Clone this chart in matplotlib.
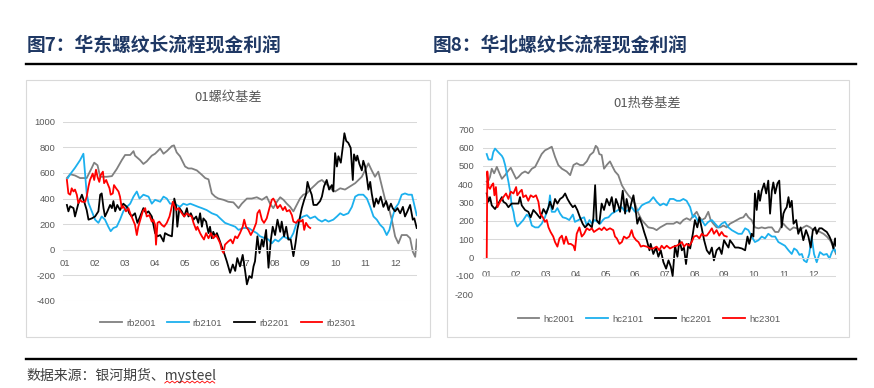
import numpy as np
import matplotlib
matplotlib.use('Agg')
import matplotlib.pyplot as plt
from matplotlib.lines import Line2D
from matplotlib.patches import Rectangle

plt.rcParams['font.family'] = ['Liberation Sans', 'Noto Sans CJK SC', 'DejaVu Sans']
plt.rcParams['axes.unicode_minus'] = False
CJK = ['Noto Sans CJK SC', 'DejaVu Sans']

# ---- data: (month position, basis) pairs ----
months = [1, 2, 3, 4, 5, 6, 7, 8, 9, 10, 11, 12]

rb2001 = [(1.06, 560), (1.17, 590), (1.33, 580), (1.5, 560), (1.72, 560), (1.89, 640), (1.97, 680),
          (2.08, 660), (2.17, 570), (2.39, 570), (2.56, 575), (2.72, 630), (2.89, 700), (3.0, 740),
          (3.17, 740), (3.28, 770), (3.33, 735), (3.5, 700), (3.61, 670), (3.72, 690), (3.89, 735),
          (4.0, 750), (4.17, 790), (4.28, 750), (4.39, 770), (4.56, 810), (4.63, 815), (4.72, 760),
          (4.83, 730), (5.0, 650), (5.11, 635), (5.22, 635), (5.39, 620), (5.56, 585), (5.67, 560),
          (5.78, 550), (5.89, 440), (6.0, 415), (6.11, 400), (6.28, 390), (6.44, 375), (6.61, 370),
          (6.78, 325), (6.89, 360), (7.06, 400), (7.22, 400), (7.39, 410), (7.56, 390), (7.72, 415),
          (7.83, 360), (7.94, 325), (8.06, 375), (8.17, 410), (8.28, 390), (8.39, 360), (8.5, 335),
          (8.61, 300), (8.72, 350), (8.83, 400), (8.94, 430), (9.06, 440), (9.17, 470), (9.33, 505),
          (9.44, 530), (9.56, 545), (9.67, 520), (9.78, 500), (9.89, 470), (10.0, 455), (10.17, 480),
          (10.33, 470), (10.5, 495), (10.67, 520), (10.78, 545), (10.89, 570), (11.06, 650),
          (11.11, 675), (11.22, 620), (11.33, 570), (11.44, 610), (11.56, 495), (11.67, 390),
          (11.78, 335), (11.89, 235), (12.0, 105), (12.11, 50), (12.22, 115), (12.39, 115),
          (12.5, 90), (12.59, -15), (12.67, -55), (12.72, 80)]

rb2101 = [(1.09, 560), (1.17, 590), (1.33, 640), (1.5, 700), (1.61, 750), (1.72, 440), (1.78, 365),
          (1.89, 300), (2.0, 235), (2.11, 210), (2.22, 260), (2.33, 235), (2.44, 180), (2.52, 145),
          (2.61, 170), (2.72, 180), (2.83, 235), (2.94, 300), (3.06, 335), (3.17, 360), (3.28, 415),
          (3.39, 455), (3.48, 400), (3.61, 430), (3.78, 415), (3.89, 360), (4.0, 390), (4.17, 375),
          (4.28, 415), (4.39, 400), (4.5, 360), (4.61, 360), (4.72, 350), (4.83, 335), (4.94, 360),
          (5.06, 350), (5.17, 360), (5.28, 350), (5.44, 335), (5.56, 325), (5.72, 310), (5.89, 285),
          (6.06, 270), (6.17, 245), (6.33, 210), (6.5, 195), (6.67, 180), (6.78, 155), (6.94, 170),
          (7.11, 170), (7.28, 145), (7.39, 130), (7.5, 105), (7.67, 90), (7.78, 80), (7.89, 50),
          (8.0, 80), (8.11, 65), (8.28, 105), (8.39, 90), (8.52, 90), (8.61, 130), (8.72, 210),
          (8.83, 245), (8.94, 260), (9.06, 270), (9.17, 245), (9.33, 260), (9.44, 235), (9.56, 220),
          (9.67, 235), (9.78, 220), (9.94, 235), (10.06, 260), (10.17, 285), (10.28, 270),
          (10.44, 285), (10.56, 335), (10.67, 415), (10.78, 430), (10.94, 430), (11.06, 400),
          (11.17, 335), (11.28, 260), (11.39, 235), (11.5, 195), (11.61, 170), (11.72, 115),
          (11.81, 155), (11.89, 235), (12.0, 325), (12.11, 360), (12.22, 430), (12.33, 440),
          (12.44, 430), (12.56, 430), (12.63, 360), (12.72, 270)]

rb2201 = [(1.06, 350), (1.11, 300), (1.17, 340), (1.28, 325), (1.33, 260), (1.44, 360), (1.56, 430),
          (1.63, 380), (1.72, 310), (1.78, 235), (1.89, 245), (2.0, 260), (2.11, 300), (2.17, 430),
          (2.22, 440), (2.28, 325), (2.33, 260), (2.41, 300), (2.5, 350), (2.56, 325), (2.61, 380),
          (2.67, 300), (2.74, 350), (2.83, 310), (2.94, 360), (3.06, 335), (3.14, 285), (3.22, 260),
          (3.33, 285), (3.41, 210), (3.5, 260), (3.61, 325), (3.7, 285), (3.78, 300), (3.89, 260),
          (4.0, 130), (4.08, 105), (4.17, 115), (4.28, 65), (4.33, 130), (4.44, 115), (4.56, 105),
          (4.61, 260), (4.64, 400), (4.7, 340), (4.74, 180), (4.81, 325), (4.89, 300), (4.97, 260),
          (5.06, 325), (5.11, 260), (5.19, 285), (5.28, 235), (5.37, 260), (5.44, 210), (5.5, 285),
          (5.56, 180), (5.61, 245), (5.7, 220), (5.78, 130), (5.83, 180), (5.89, 90), (5.94, 140),
          (6.0, 105), (6.06, 130), (6.14, 80), (6.22, 25), (6.3, -25), (6.39, -90), (6.5, -180),
          (6.59, -115), (6.67, -165), (6.74, -65), (6.83, -130), (6.92, -40), (7.0, -165),
          (7.06, -270), (7.14, -205), (7.22, -220), (7.28, -130), (7.33, -90), (7.41, 105),
          (7.48, -25), (7.56, 80), (7.61, 25), (7.7, 155), (7.78, -140), (7.86, 80), (7.92, 180),
          (8.0, 115), (8.08, 235), (8.17, 140), (8.22, 220), (8.3, 105), (8.37, 180), (8.44, 80),
          (8.52, 80), (8.61, -50), (8.68, 50), (8.74, 155), (8.81, 235), (8.89, 325), (8.97, 390),
          (9.03, 430), (9.08, 530), (9.14, 480), (9.22, 430), (9.28, 350), (9.39, 350), (9.5, 380),
          (9.56, 415), (9.63, 495), (9.72, 545), (9.8, 470), (9.89, 505), (9.94, 455), (10.0, 755),
          (10.06, 650), (10.11, 730), (10.19, 680), (10.26, 810), (10.31, 910), (10.37, 850),
          (10.44, 835), (10.52, 795), (10.59, 545), (10.63, 745), (10.7, 695), (10.74, 735),
          (10.81, 670), (10.89, 620), (10.94, 695), (11.0, 650), (11.06, 560), (11.11, 470),
          (11.17, 530), (11.22, 440), (11.3, 335), (11.37, 400), (11.44, 360), (11.52, 415),
          (11.61, 335), (11.7, 380), (11.78, 310), (11.86, 360), (11.92, 325), (12.0, 300),
          (12.08, 325), (12.17, 285), (12.26, 335), (12.33, 260), (12.41, 300), (12.5, 350),
          (12.59, 235), (12.64, 245), (12.72, 170)]

rb2301 = [(1.06, 545), (1.11, 440), (1.17, 430), (1.22, 480), (1.28, 455), (1.33, 470), (1.39, 430),
          (1.44, 365), (1.5, 390), (1.56, 375), (1.67, 375), (1.72, 415), (1.78, 495), (1.83, 545),
          (1.92, 595), (1.97, 545), (2.03, 625), (2.08, 570), (2.14, 530), (2.19, 585), (2.26, 610),
          (2.3, 520), (2.37, 545), (2.41, 520), (2.48, 480), (2.52, 430), (2.59, 440), (2.63, 505),
          (2.7, 480), (2.78, 455), (2.83, 415), (2.89, 325), (2.94, 340), (3.03, 300), (3.11, 325),
          (3.17, 285), (3.26, 235), (3.33, 195), (3.39, 115), (3.44, 180), (3.52, 245), (3.59, 300),
          (3.67, 325), (3.72, 260), (3.81, 270), (3.89, 220), (3.94, 235), (4.0, 195), (4.03, 40),
          (4.08, 210), (4.14, 220), (4.22, 195), (4.3, 180), (4.39, 210), (4.48, 260), (4.53, 310),
          (4.59, 375), (4.63, 350), (4.7, 310), (4.78, 325), (4.89, 285), (4.97, 260), (5.06, 285),
          (5.14, 270), (5.22, 260), (5.28, 210), (5.37, 155), (5.41, 180), (5.5, 130), (5.56, 105),
          (5.63, 80), (5.7, 130), (5.78, 90), (5.86, 130), (5.94, 90), (6.03, 115), (6.11, 80),
          (6.17, 50), (6.22, 0), (6.28, -25), (6.33, 40), (6.44, 65), (6.52, 80), (6.59, 50),
          (6.67, 105), (6.74, 90), (6.83, 130), (6.92, 180), (6.97, 235), (7.03, 180), (7.11, 155),
          (7.19, 115), (7.28, 155), (7.37, 210), (7.41, 285), (7.48, 310), (7.56, 235), (7.63, 210),
          (7.72, 245), (7.81, 325), (7.89, 390), (7.94, 400), (8.0, 375), (8.08, 325), (8.17, 350),
          (8.26, 310), (8.33, 335), (8.39, 300), (8.48, 310), (8.56, 270), (8.61, 220), (8.7, 210),
          (8.78, 235), (8.86, 220), (8.92, 235), (8.97, 155), (9.03, 210), (9.11, 180), (9.17, 170)]

hc2001 = [(1.0, 415), (1.06, 420), (1.11, 440), (1.17, 485), (1.25, 460), (1.34, 495), (1.43, 460),
          (1.51, 430), (1.62, 450), (1.73, 475), (1.81, 490), (1.9, 460), (1.99, 430), (2.07, 440),
          (2.18, 460), (2.29, 470), (2.4, 460), (2.52, 485), (2.63, 495), (2.74, 530), (2.85, 565),
          (2.96, 585), (3.08, 595), (3.19, 605), (3.3, 550), (3.41, 505), (3.53, 485), (3.69, 470),
          (3.81, 450), (3.92, 505), (4.03, 515), (4.14, 505), (4.25, 505), (4.37, 525), (4.48, 560),
          (4.59, 575), (4.67, 610), (4.73, 600), (4.79, 565), (4.87, 560), (4.95, 485), (5.04, 505),
          (5.15, 525), (5.24, 495), (5.32, 470), (5.43, 450), (5.55, 395), (5.66, 365), (5.77, 340),
          (5.88, 320), (5.99, 295), (6.11, 240), (6.22, 205), (6.33, 185), (6.44, 165), (6.61, 160),
          (6.72, 150), (6.84, 165), (6.95, 175), (7.06, 185), (7.17, 185), (7.29, 185), (7.4, 195),
          (7.51, 185), (7.62, 205), (7.73, 215), (7.85, 205), (7.96, 230), (8.07, 250), (8.16, 220),
          (8.24, 205), (8.35, 215), (8.46, 250), (8.54, 205), (8.63, 185), (8.74, 165), (8.86, 165),
          (8.97, 175), (9.08, 165), (9.19, 185), (9.31, 195), (9.42, 205), (9.53, 215), (9.64, 220),
          (9.73, 240), (9.81, 220), (9.92, 205), (10.03, 165), (10.15, 160), (10.26, 165),
          (10.37, 160), (10.48, 165), (10.6, 165), (10.71, 140), (10.82, 140), (10.9, 165),
          (10.99, 185), (11.1, 165), (11.21, 150), (11.33, 165), (11.44, 160), (11.55, 150),
          (11.66, 165), (11.77, 175), (11.89, 165), (12.0, 150), (12.11, 150), (12.22, 140),
          (12.34, 130), (12.45, 115), (12.56, 95), (12.67, 60), (12.76, 20)]

hc2101 = [(1.0, 565), (1.06, 535), (1.17, 535), (1.22, 575), (1.28, 595), (1.39, 575), (1.51, 555),
          (1.56, 540), (1.62, 505), (1.73, 415), (1.79, 360), (1.84, 285), (1.9, 250), (1.95, 200),
          (2.03, 170), (2.12, 185), (2.23, 205), (2.35, 235), (2.44, 220), (2.52, 175), (2.63, 165),
          (2.74, 165), (2.85, 185), (2.96, 220), (3.08, 275), (3.13, 340), (3.19, 250), (3.3, 250),
          (3.38, 270), (3.47, 240), (3.56, 220), (3.67, 215), (3.78, 205), (3.9, 235), (3.97, 195),
          (4.09, 205), (4.2, 215), (4.28, 220), (4.37, 175), (4.46, 205), (4.54, 185), (4.63, 205),
          (4.73, 195), (4.82, 185), (4.91, 205), (4.98, 215), (5.1, 220), (5.21, 240), (5.32, 250),
          (5.43, 260), (5.55, 275), (5.66, 250), (5.77, 260), (5.88, 275), (5.99, 250), (6.11, 260),
          (6.22, 285), (6.33, 295), (6.48, 305), (6.61, 330), (6.72, 305), (6.84, 285), (6.95, 295),
          (7.06, 285), (7.17, 320), (7.29, 320), (7.4, 310), (7.51, 310), (7.62, 320), (7.73, 310),
          (7.85, 275), (7.94, 220), (8.01, 230), (8.13, 195), (8.24, 205), (8.35, 175), (8.46, 195),
          (8.58, 205), (8.69, 185), (8.8, 165), (8.91, 185), (9.02, 195), (9.14, 165), (9.25, 150),
          (9.36, 140), (9.47, 130), (9.59, 130), (9.7, 160), (9.81, 150), (9.92, 115), (10.03, 85),
          (10.15, 95), (10.26, 115), (10.37, 105), (10.48, 130), (10.6, 115), (10.71, 115),
          (10.82, 85), (10.93, 75), (11.04, 65), (11.16, 40), (11.27, 20), (11.35, 50), (11.44, 40),
          (11.53, 15), (11.61, 20), (11.68, -15), (11.77, -25), (11.86, 20), (11.94, 115),
          (12.02, 20), (12.11, -25), (12.22, 30), (12.34, 15), (12.45, 20), (12.54, -5),
          (12.62, 30), (12.69, 50), (12.76, 30)]

hc2201 = [(1.0, 350), (1.06, 305), (1.11, 330), (1.17, 285), (1.28, 265), (1.39, 295), (1.51, 330),
          (1.56, 305), (1.65, 295), (1.73, 275), (1.84, 295), (1.95, 295), (2.07, 295), (2.12, 330),
          (2.18, 285), (2.29, 260), (2.4, 250), (2.48, 220), (2.57, 260), (2.68, 240), (2.8, 215),
          (2.91, 265), (3.0, 240), (3.08, 275), (3.13, 305), (3.22, 265), (3.3, 320), (3.38, 295),
          (3.47, 320), (3.56, 330), (3.64, 350), (3.72, 320), (3.81, 295), (3.9, 275), (3.97, 285),
          (4.05, 260), (4.14, 220), (4.23, 185), (4.31, 165), (4.42, 185), (4.54, 165), (4.59, 215),
          (4.65, 395), (4.7, 205), (4.79, 185), (4.87, 295), (4.95, 260), (5.04, 320), (5.13, 285),
          (5.21, 330), (5.29, 250), (5.35, 320), (5.43, 285), (5.49, 250), (5.58, 365), (5.66, 240),
          (5.71, 320), (5.8, 250), (5.88, 305), (5.94, 340), (6.03, 240), (6.07, 185), (6.14, 220),
          (6.22, 185), (6.3, 140), (6.39, 95), (6.48, 40), (6.52, 75), (6.61, 20), (6.7, 55),
          (6.78, 5), (6.86, 40), (6.95, -25), (7.04, -60), (7.12, -15), (7.2, -50), (7.26, -100),
          (7.34, 65), (7.42, 5), (7.49, 95), (7.57, 40), (7.64, 55), (7.71, -35), (7.79, 75),
          (7.85, 50), (7.94, 130), (8.01, 205), (8.09, 165), (8.16, 220), (8.24, 160), (8.32, 95),
          (8.41, 40), (8.5, 20), (8.58, 55), (8.65, -15), (8.74, 40), (8.83, 55), (8.91, 20),
          (8.99, 95), (9.06, 75), (9.14, 55), (9.19, 95), (9.28, 75), (9.36, 55), (9.47, 55),
          (9.59, 50), (9.7, 40), (9.78, 115), (9.84, 75), (9.92, 130), (9.98, 115), (10.03, 350),
          (10.09, 260), (10.15, 365), (10.2, 310), (10.26, 365), (10.34, 405), (10.41, 350),
          (10.48, 420), (10.54, 240), (10.6, 365), (10.65, 410), (10.71, 350), (10.79, 405),
          (10.85, 420), (10.93, 165), (10.99, 240), (11.04, 260), (11.1, 275), (11.16, 330),
          (11.21, 275), (11.27, 310), (11.33, 185), (11.42, 205), (11.49, 130), (11.57, 165),
          (11.66, 95), (11.75, 150), (11.83, 115), (11.91, 55), (11.98, 150), (12.06, 165),
          (12.11, 130), (12.2, 160), (12.28, 160), (12.36, 150), (12.45, 140), (12.54, 115),
          (12.62, 85), (12.67, 50), (12.73, 105), (12.76, 65)]

hc2301 = [(1.0, 0), (1.02, 470), (1.06, 385), (1.11, 375), (1.17, 395), (1.22, 405), (1.26, 340),
          (1.31, 385), (1.36, 275), (1.45, 305), (1.56, 330), (1.65, 350), (1.73, 320), (1.81, 360),
          (1.9, 350), (1.99, 385), (2.03, 340), (2.12, 360), (2.18, 370), (2.23, 330), (2.32, 340),
          (2.4, 310), (2.48, 340), (2.57, 330), (2.66, 340), (2.74, 305), (2.8, 240), (2.89, 220),
          (2.96, 195), (3.02, 205), (3.08, 165), (3.15, 140), (3.24, 115), (3.3, 85), (3.38, 60),
          (3.45, 105), (3.53, 120), (3.6, 75), (3.67, 115), (3.75, 75), (3.83, 75), (3.92, 65),
          (3.97, 40), (4.03, 130), (4.12, 165), (4.2, 115), (4.28, 130), (4.37, 160), (4.46, 150),
          (4.54, 160), (4.61, 140), (4.7, 150), (4.79, 160), (4.87, 150), (4.95, 165), (5.04, 150),
          (5.15, 160), (5.26, 150), (5.32, 115), (5.38, 105), (5.47, 75), (5.55, 85), (5.62, 115),
          (5.71, 105), (5.8, 115), (5.88, 150), (5.94, 115), (6.03, 95), (6.11, 85), (6.19, 60),
          (6.27, 65), (6.39, 60), (6.5, 50), (6.61, 50), (6.72, 60), (6.81, 40), (6.89, 65),
          (6.97, 50), (7.06, 65), (7.17, 50), (7.29, 60), (7.4, 65), (7.49, 75), (7.57, 85),
          (7.64, 60), (7.73, 75), (7.82, 65), (7.9, 85), (7.98, 115), (8.07, 120), (8.16, 105),
          (8.24, 130), (8.32, 120), (8.41, 120), (8.5, 140), (8.58, 160), (8.65, 130), (8.74, 150),
          (8.83, 120), (8.91, 140), (8.99, 120), (9.08, 115)]

rb_names = ['rb2001', 'rb2101', 'rb2201', 'rb2301']
hc_names = ['hc2001', 'hc2101', 'hc2201', 'hc2301']
colors = ['#808080', '#1CB0EE', '#000000', '#FF0000']

W, H = 874, 388
fig = plt.figure(figsize=(W / 100, H / 100), dpi=100)


def fx(px):
    return px / W


def fy(py):
    return 1 - py / H


GRID = '#D9D9D9'
TXT = '#595959'


def style(ax, ylo, yhi, step, xlo, xhi, xpad, ypad):
    ax.set_xlim(xlo, xhi)
    ax.set_ylim(ylo, yhi)
    ax.set_yticks(range(ylo, yhi + 1, step))
    ax.set_xticks(months)
    ax.set_xticklabels(['%02d' % m for m in months])
    ax.grid(axis='y', color=GRID, lw=0.75)
    ax.set_axisbelow(True)
    for s in ['top', 'right', 'left']:
        ax.spines[s].set_visible(False)
    ax.spines['bottom'].set_position(('data', 0))
    ax.spines['bottom'].set_color(GRID)
    ax.spines['bottom'].set_linewidth(0.75)
    ax.tick_params(length=0, labelsize=6.8, labelcolor=TXT)
    ax.tick_params(axis='x', pad=xpad)
    ax.tick_params(axis='y', pad=ypad)
    ax.patch.set_alpha(0)


# panel frames
fig.add_artist(Rectangle((fx(26), fy(337)), (430 - 26) / W, (337 - 80) / H, transform=fig.transFigure,
                         fill=False, ec=GRID, lw=0.8))
fig.add_artist(Rectangle((fx(447), fy(337)), (849 - 447) / W, (337 - 80) / H, transform=fig.transFigure,
                         fill=False, ec=GRID, lw=0.8))

axL = fig.add_axes([fx(63), fy(301), (417 - 63) / W, (301 - 121.7) / H])
axR = fig.add_axes([fx(483), fy(294.3), (836 - 483) / W, (294.3 - 129.3) / H])
style(axL, -400, 1000, 200, 0.93, 12.73, 6.5, 5.5)
style(axR, -200, 700, 100, 0.875, 12.76, 9, 6.5)

hL = []
for name, ser, c in zip(rb_names, [rb2001, rb2101, rb2201, rb2301], colors):
    t, v = zip(*ser)
    hL += axL.plot(t, v, color=c, lw=1.3, label=name)
hR = []
for name, ser, c in zip(hc_names, [hc2001, hc2101, hc2201, hc2301], colors):
    t, v = zip(*ser)
    hR += axR.plot(t, v, color=c, lw=1.3, label=name)

leg_kw = dict(loc='center', ncol=4, frameon=False, fontsize=6.8, handlelength=2.3,
              handletextpad=0.45, columnspacing=1.2, labelcolor=TXT)
fig.legend(hL, rb_names, bbox_to_anchor=(fx(228), fy(323)), **leg_kw)
fig.legend(hR, hc_names, bbox_to_anchor=(fx(649), fy(319)), **leg_kw)

fig.text(fx(228), fy(98), '01螺纹基差', ha='center', va='center', fontsize=9.5, color=TXT, family=CJK)
fig.text(fx(647), fy(103), '01热卷基差', ha='center', va='center', fontsize=9.5, color=TXT, family=CJK)

# headings and rules
fig.text(fx(27), fy(45), '图7：华东螺纹长流程现金利润', ha='left', va='center', fontsize=13.5,
         fontweight='bold', color='#1F3864', family=CJK)
fig.text(fx(433), fy(45), '图8：华北螺纹长流程现金利润', ha='left', va='center', fontsize=13.5,
         fontweight='bold', color='#1F3864', family=CJK)
fig.add_artist(Line2D([fx(26), fx(856)], [fy(63.5)] * 2, transform=fig.transFigure, color='black', lw=1.7))
fig.add_artist(Line2D([fx(26), fx(856)], [fy(358.5)] * 2, transform=fig.transFigure, color='black', lw=1.7))

src_kw = dict(ha='left', va='center', fontsize=10, color='#404040', family=CJK)
src = fig.text(fx(26), fy(375), '数据来源：银河期货、mysteel', **src_kw)

# spell-check squiggle under "mysteel"
fig.canvas.draw()
r = fig.canvas.get_renderer()
bb = src.get_window_extent(r)
tmp = fig.text(0, 0, 'mysteel', **src_kw)
w = tmp.get_window_extent(r).width
tmp.remove()
xs = np.arange(bb.x1 - w, bb.x1, 2.5)
ys = bb.y0 - 0.5 + 2.0 * (np.arange(len(xs)) % 2)
fig.add_artist(Line2D(xs / W, ys / H, transform=fig.transFigure, color='red', lw=0.6))

fig.savefig('out.png', dpi=100)
